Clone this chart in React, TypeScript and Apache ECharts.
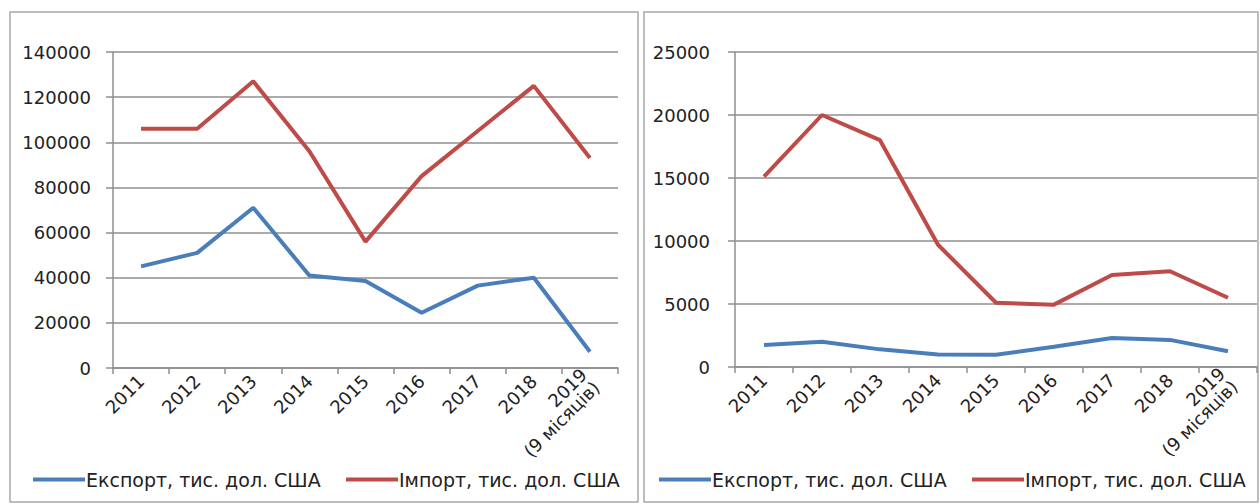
import React, { useEffect, useRef } from "react";
import * as echarts from "echarts";

const years = ["2011", "2012", "2013", "2014", "2015", "2016", "2017", "2018", "2019\n(9 місяців)"];

const exportTotal = [45000, 51000, 71000, 41000, 38500, 24500, 36500, 40000, 7200];
const importTotal = [106000, 106000, 127000, 96000, 56000, 85000, 105000, 125000, 93000];

const exportRight = [1750, 2000, 1400, 1000, 980, 1600, 2300, 2150, 1250];
const importRight = [15100, 20000, 18000, 9700, 5100, 4950, 7300, 7600, 5500];

const exportName = "Експорт, тис. дол. США";
const importName = "Імпорт, тис. дол. США";

const BLUE = "#4a7ebb";
const RED = "#be4b48";
const GRID = "#8f8f8f";
const TEXT = "#222222";
const FONT = "DejaVu Sans";

export default function App() {
  const ref = useRef<HTMLDivElement>(null);
  useEffect(() => {
    if (!ref.current) return;
    const chart = echarts.init(ref.current, undefined, { renderer: "svg" });
    const xAxisBase = (gridIndex: number) => ({
      type: "category" as const,
      gridIndex,
      data: years,
      boundaryGap: true,
      axisLine: { show: true, lineStyle: { color: GRID, width: 1.5 } },
      axisTick: { show: true, length: 6, interval: 0, lineStyle: { color: GRID, width: 1.5 } },
      axisLabel: {
        interval: 0,
        rotate: 45,
        margin: 10,
        color: TEXT,
        fontFamily: FONT,
        fontSize: 18,
        lineHeight: 18,
      },
    });
    const yAxisBase = (gridIndex: number, max: number, interval: number, margin: number) => ({
      type: "value" as const,
      gridIndex,
      min: 0,
      max,
      interval,
      axisLine: { show: true, lineStyle: { color: GRID, width: 1.5 } },
      axisTick: { show: true, length: 7, lineStyle: { color: GRID, width: 1.5 } },
      splitLine: { show: true, lineStyle: { color: GRID, width: 1.5 } },
      axisLabel: {
        color: TEXT,
        fontFamily: FONT,
        fontSize: 18,
        margin,
        formatter: (v: number) => String(v),
      },
    });
    const lineSeries = (name: string, data: number[], color: string, idx: number) => ({
      type: "line" as const,
      name,
      data,
      xAxisIndex: idx,
      yAxisIndex: idx,
      symbol: "none",
      lineStyle: { color, width: 4 },
      itemStyle: { color },
    });
    const legendItem = (name: string, left: number) => ({
      data: [name],
      left,
      top: 465,
      orient: "horizontal" as const,
      icon: "rect",
      itemWidth: 52,
      itemHeight: 4,
      selectedMode: false,
      textStyle: { color: TEXT, fontFamily: FONT, fontSize: 19, lineHeight: 19, padding: [0, 0, 0, -4] },
    });
    chart.setOption({
      animation: false,
      backgroundColor: "#ffffff",
      grid: [
        { left: 113, top: 52, width: 505, height: 316 },
        { left: 735, top: 52, width: 522, height: 315 },
      ],
      xAxis: [xAxisBase(0), xAxisBase(1)],
      yAxis: [yAxisBase(0, 140000, 20000, 22), yAxisBase(1, 25000, 5000, 25)],
      legend: [
        legendItem(exportName, 28),
        legendItem(importName, 341),
        legendItem(exportName, 654),
        legendItem(importName, 967),
      ],
      series: [
        lineSeries(exportName, exportTotal, BLUE, 0),
        lineSeries(importName, importTotal, RED, 0),
        lineSeries(exportName, exportRight, BLUE, 1),
        lineSeries(importName, importRight, RED, 1),
      ],
      graphic: [
        {
          type: "rect",
          shape: { x: 10, y: 12, width: 628, height: 490 },
          style: { fill: "none", stroke: "#a8a8a8", lineWidth: 1.5 },
          silent: true,
        },
        {
          type: "rect",
          shape: { x: 644, y: 12, width: 614, height: 490 },
          style: { fill: "none", stroke: "#a8a8a8", lineWidth: 1.5 },
          silent: true,
        },
      ],
    });
    return () => chart.dispose();
  }, []);
  return (
    <div
      ref={ref}
      style={{ position: "fixed", left: 0, top: 0, width: 1260, height: 504, background: "#fff" }}
    />
  );
}
